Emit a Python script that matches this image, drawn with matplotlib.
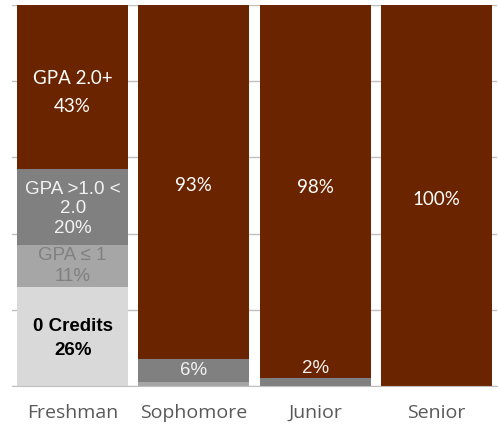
import matplotlib
matplotlib.use("Agg")
import matplotlib.pyplot as plt
import numpy as np

categories = ["Freshman", "Sophomore", "Junior", "Senior"]
zero_credits = [26, 0, 0, 0]
gpa_le1 = [11, 1, 0, 0]
gpa_1_2 = [20, 6, 2, 0]
gpa_2plus = [43, 93, 98, 100]

series = [zero_credits, gpa_le1, gpa_1_2, gpa_2plus]
colors = ["#D9D9D9", "#A6A6A6", "#808080", "#6B2400"]

fig = plt.figure(figsize=(4.98, 4.29), dpi=100)
ax = fig.add_axes([12/498, 1 - 386/429, 485/498, 381/429])

x = np.arange(len(categories))
bottom = np.zeros(len(categories))
for vals, c in zip(series, colors):
    ax.bar(x, vals, width=0.915, bottom=bottom, color=c, zorder=2)
    bottom += np.array(vals)

ax.set_xlim(-0.5, 3.5)
ax.set_ylim(0, 100)
ax.set_yticks(np.arange(0, 101, 20))
ax.yaxis.grid(True, color="#BFBFBF", linewidth=1, zorder=0)
ax.tick_params(axis="y", length=0, labelleft=False)
ax.tick_params(axis="x", length=0, pad=13)
for s in ["left", "right", "top"]:
    ax.spines[s].set_visible(False)
ax.spines["bottom"].set_color("#BFBFBF")
ax.spines["bottom"].set_zorder(3)
ax.set_xticks(x)
ax.set_xticklabels(categories, fontsize=14, color="#595959", family="Open Sans")

cum = np.cumsum(np.array(series), axis=0)
def center(i, j):
    lo = cum[i-1][j] if i > 0 else 0
    return (lo + cum[i][j]) / 2

fs = 13.5
ax.text(0, center(3, 0) - 1.5, f"GPA 2.0+\n{gpa_2plus[0]}%", ha="center", va="center",
        color="white", fontsize=fs, family="Lato", linespacing=1.8, zorder=4)
ax.text(0, center(2, 0) - 0.5, f"GPA >1.0 <\n2.0\n{gpa_1_2[0]}%", ha="center", va="center",
        color="#F2F2F2", fontsize=fs, family="Liberation Sans", linespacing=1.2, zorder=4)
ax.text(0, center(1, 0), f"GPA ≤ 1\n{gpa_le1[0]}%", ha="center", va="center",
        color="#808080", fontsize=fs, family="Liberation Sans", linespacing=1.35, zorder=4)
ax.text(0, center(0, 0) - 0.5, f"0 Credits\n{zero_credits[0]}%", ha="center", va="center",
        color="black", fontsize=fs, family="Liberation Sans", fontweight="bold",
        linespacing=1.5, zorder=4)

ax.text(1, center(3, 1) - 1, f"{gpa_2plus[1]}%", ha="center", va="center",
        color="white", fontsize=fs, family="Lato", zorder=4)
ax.text(1, center(2, 1), f"{gpa_1_2[1]}%", ha="center", va="center",
        color="#F2F2F2", fontsize=fs, family="Liberation Sans", zorder=4)
ax.text(2, center(3, 2) + 1, f"{gpa_2plus[2]}%", ha="center", va="center",
        color="white", fontsize=fs, family="Lato", zorder=4)
ax.text(2, cum[2][2] + 2.5, f"{gpa_1_2[2]}%", ha="center", va="center",
        color="#F2F2F2", fontsize=fs, family="Liberation Sans", zorder=4)
ax.text(3, center(3, 3) - 1, f"{gpa_2plus[3]}%", ha="center", va="center",
        color="white", fontsize=fs, family="Lato", zorder=4)

fig.savefig("out.png", dpi=100)
